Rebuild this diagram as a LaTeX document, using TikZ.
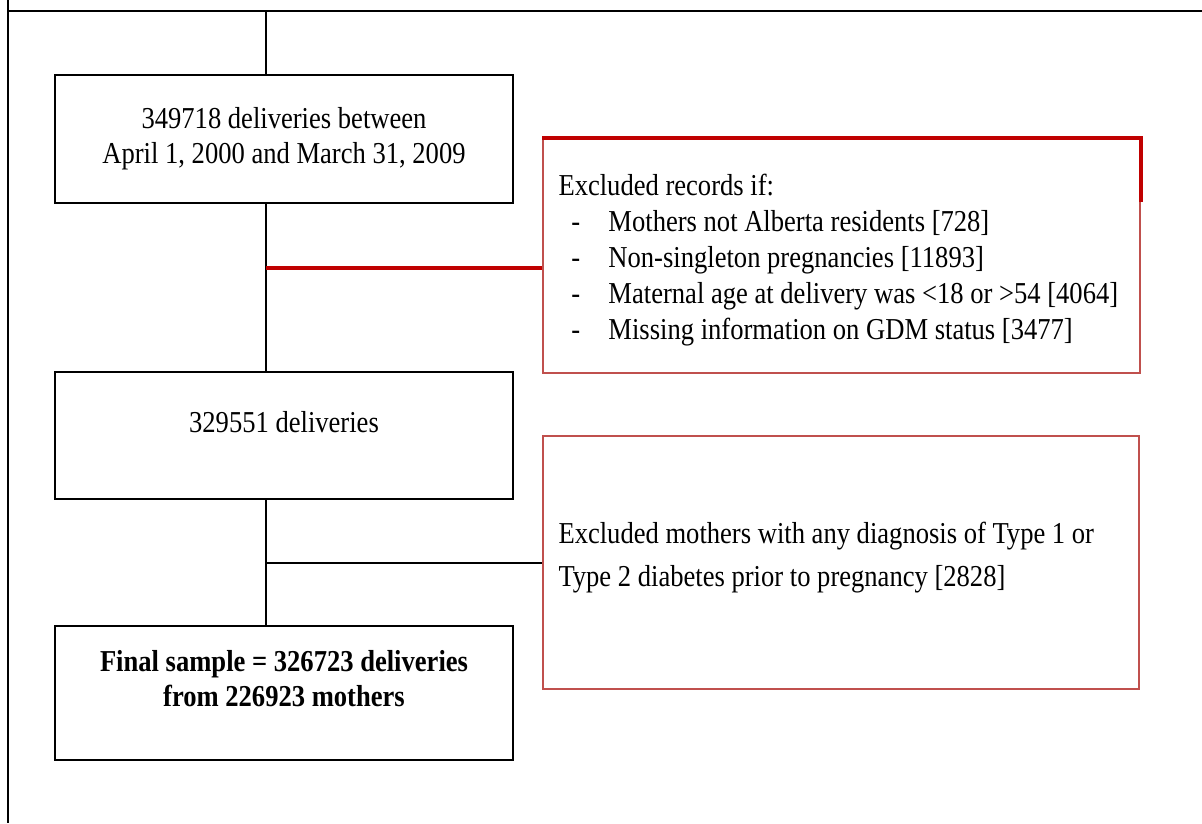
\documentclass[tikz,border=0pt]{standalone}
\usepackage{fontspec}
\setmainfont[FakeStretch=0.875]{Liberation Serif}
\usetikzlibrary{positioning}
\definecolor{darkred}{HTML}{C00000}
\definecolor{boxred}{HTML}{C0504D}
\tikzset{
  stepbox/.style={draw, line width=1pt, minimum width=6.36cm, inner sep=0pt, align=center},
  exbox/.style={draw=boxred, line width=0.75pt, inner sep=0pt},
  txt/.style={inner sep=0pt, font=\fontsize{12}{13.8}\selectfont},
  link/.style={line width=0.8pt},
  redlink/.style={darkred, line width=1.5pt}
}
\begin{document}
\begin{tikzpicture}[x=0.013889cm, y=-0.013889cm]
  \useasboundingbox (0,0) rectangle (1202,823);
  % frame
  \draw[line width=1.1pt] (8,0) -- (8,823);
  \draw[line width=1.1pt] (8,11) -- (1202,11);
  \coordinate (top) at (266,11);
  % flow boxes
  \node[stepbox, minimum height=1.78cm] (b1) at (284,139) {};
  \node[stepbox, minimum height=1.76cm] (b2) at (284,435.5) {};
  \node[stepbox, minimum height=1.86cm] (b3) at (284,693) {};
  \node[exbox, minimum width=8.29cm, minimum height=3.25cm] (x1) at (841.5,256) {};
  \node[exbox, minimum width=8.28cm, minimum height=3.51cm] (x2) at (841,562.5) {};
  % texts
  \node[txt, align=center] (t1) at (284,139)
    {349718 deliveries between\\April 1, 2000 and March 31, 2009};
  \node[txt] (t2) at (284,422) {329551 deliveries};
  \node[txt, align=center, font=\fontsize{12}{13.8}\selectfont\bfseries] (t3) at (284,679)
    {Final sample = 326723 deliveries\\from 226923 mothers};
  \node[txt, align=left, anchor=north west, font=\fontsize{12}{14.2}\selectfont] (t4) at (558,174)
    {Excluded records if:\\
     \makebox[0.694cm][l]{\hspace*{0.18cm}-}Mothers not Alberta residents [728]\\
     \makebox[0.694cm][l]{\hspace*{0.18cm}-}Non-singleton pregnancies [11893]\\
     \makebox[0.694cm][l]{\hspace*{0.18cm}-}Maternal age at delivery was <18 or >54 [4064]\\
     \makebox[0.694cm][l]{\hspace*{0.18cm}-}Missing information on GDM status [3477]};
  \node[txt, align=left, anchor=north west, font=\fontsize{12}{17}\selectfont] (t5) at (558,522)
    {Excluded mothers with any diagnosis of Type 1 or\\
     Type 2 diabetes prior to pregnancy [2828]};
  % connectors
  \coordinate (j1) at (266,268);
  \coordinate (j2) at (266,563);
  \draw[link] (top) -- (top |- b1.north);
  \draw[link] (top |- b1.south) -- (top |- b2.north);
  \draw[link] (top |- b2.south) -- (top |- b3.north);
  \draw[redlink] (j1) -- (j1 -| x1.west);
  \draw[link] (j2) -- (j2 -| x2.west);
  \draw[redlink] (x1.north west) -- (x1.north east) -- ++(0,64);
\end{tikzpicture}
\end{document}
